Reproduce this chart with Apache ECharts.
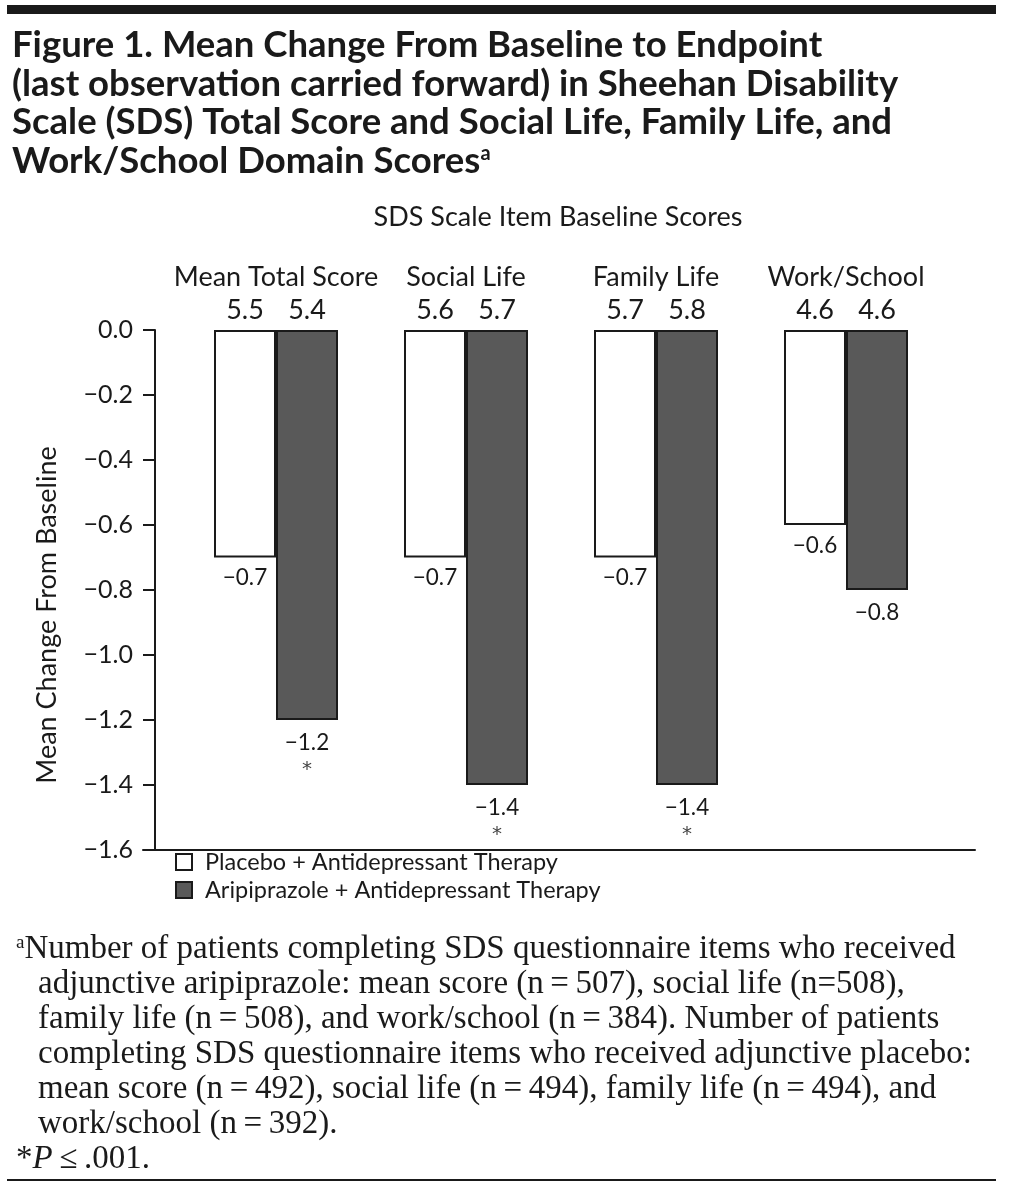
<!DOCTYPE html>
<html><head><meta charset="utf-8">
<script src="https://cdn.jsdelivr.net/npm/echarts@6/dist/echarts.min.js"></script>
<style>html,body{margin:0;padding:0;background:#fff}#c{width:1009px;height:1189px}</style>
</head><body><div id="c"></div>
<script>
// ---- data ----
const categories = ['Mean Total Score', 'Social Life', 'Family Life', 'Work/School'];
const seriesNames = ['Placebo + Antidepressant Therapy', 'Aripiprazole + Antidepressant Therapy'];
const placeboChange = [-0.7, -0.7, -0.7, -0.6];
const aripChange = [-1.2, -1.4, -1.4, -0.8];
const placeboBaseline = [5.5, 5.6, 5.7, 4.6];
const aripBaseline = [5.4, 5.7, 5.8, 4.6];
const aripSignificant = [true, true, true, false];
const yMin = -1.6, yMax = 0, yStep = 0.2;

const SANS = 'Lato, "Open Sans", sans-serif';
const SERIF = '"Liberation Serif", "DejaVu Serif", serif';
const fmtNum = v => (v < 0 ? '\u2212' : '') + Math.abs(v).toFixed(1);

const chart = echarts.init(document.getElementById('c'), null, {renderer: 'canvas'});
const titleText =
  'Figure 1. Mean Change From Baseline to Endpoint\n' +
  '(last observation carried forward) in Sheehan Disability\n' +
  'Scale (SDS) Total Score and Social Life, Family Life, and\n' +
  'Work/School Domain Scores{sup|a}';
const footText =
  '{sup|a}Number of patients completing SDS questionnaire items who received\n' +
  '{i| }adjunctive aripiprazole: mean score (n\u2009=\u2009507), social life (n=508),\n' +
  '{i| }family life (n\u2009=\u2009508), and work/school (n\u2009=\u2009384). Number of patients\n' +
  '{i| }completing SDS questionnaire items who received adjunctive placebo:\n' +
  '{i| }mean score (n\u2009=\u2009492), social life (n\u2009=\u2009494), family life (n\u2009=\u2009494), and\n' +
  '{i| }work/school (n\u2009=\u2009392).\n' +
  '*{it|P}\u2009\u2264\u2009.001.';

const option = {
  backgroundColor: '#fff',
  animation: false,
  title: [
    {
      text: titleText, left: 12, top: 26, padding: 0,
      textStyle: {
        fontFamily: SANS, fontWeight: 'bold', fontSize: 36.5, lineHeight: 38.5, color: '#1a1a1a',
        rich: {sup: {fontFamily: SANS, fontWeight: 'bold', fontSize: 20, color: '#1a1a1a', lineHeight: 38.5, padding: [0, 0, 15, 0]}}
      }
    },
    {
      text: 'SDS Scale Item Baseline Scores', left: 558, textAlign: 'center', top: 204, padding: 0,
      textStyle: {fontFamily: SANS, fontWeight: 'normal', fontSize: 27, color: '#1a1a1a'}
    },
    {
      text: footText, left: 16, top: 932, padding: 0,
      textStyle: {
        fontFamily: SERIF, fontWeight: 'normal', fontSize: 33, lineHeight: 35, color: '#1a1a1a',
        rich: {
          sup: {fontFamily: SERIF, fontSize: 19, color: '#1a1a1a', padding: [0, 0, 13, 0]},
          i: {fontFamily: SERIF, fontSize: 33, width: 22},
          it: {fontFamily: SERIF, fontSize: 33, fontStyle: 'italic', color: '#1a1a1a'}
        }
      }
    }
  ],
  graphic: [
    {type: 'rect', shape: {x: 7, y: 5, width: 989, height: 9}, style: {fill: '#1a1a1a'}},
    {type: 'rect', shape: {x: 7, y: 1179, width: 989, height: 2}, style: {fill: '#1a1a1a'}},
    {type: 'text', x: 47, y: 615, rotation: Math.PI / 2,
      style: {text: 'Mean Change From Baseline', font: '27px ' + SANS, fill: '#1a1a1a', align: 'center', verticalAlign: 'middle'}}
  ],
  legend: {
    orient: 'vertical', left: 175, top: 848, padding: 0, itemGap: 0,
    itemWidth: 16, itemHeight: 16, icon: 'rect',
    textStyle: {fontFamily: SANS, fontSize: 23.5, lineHeight: 28, color: '#1a1a1a', padding: [0, 0, 0, 8]},
    data: seriesNames
  },
  grid: [
    {left: 181, right: 68, top: 330, height: 520, containLabel: false},
    {left: 143, right: 34, top: 330, height: 520, containLabel: false}
  ],
  xAxis: [
    {
      type: 'category', gridIndex: 0, position: 'top', data: categories,
      axisLine: {show: false}, axisTick: {show: false}, splitLine: {show: false},
      axisLabel: {
        interval: 0, margin: 3, color: '#1a1a1a',
        formatter: (val, idx) => '{n|' + val + '}\n{b|' + placeboBaseline[idx].toFixed(1) + '}{b|' + aripBaseline[idx].toFixed(1) + '}',
        rich: {
          n: {fontFamily: SANS, fontSize: 27, lineHeight: 33, color: '#1a1a1a'},
          b: {fontFamily: SANS, fontSize: 27, lineHeight: 33, width: 62, align: 'center', color: '#1a1a1a'}
        }
      }
    },
    {
      type: 'value', gridIndex: 1, position: 'top', min: 0, max: 1,
      axisLine: {show: true, lineStyle: {color: '#1a1a1a', width: 2}},
      axisTick: {show: false}, axisLabel: {show: false}, splitLine: {show: false}
    }
  ],
  yAxis: [
    {
      type: 'value', gridIndex: 0, min: yMin, max: yMax, interval: yStep, offset: 26,
      axisLine: {show: true, lineStyle: {color: '#1a1a1a', width: 2}},
      axisTick: {show: true, length: 12, lineStyle: {color: '#1a1a1a', width: 2}},
      splitLine: {show: false},
      axisLabel: {margin: 22, fontFamily: SANS, fontSize: 25, color: '#1a1a1a', formatter: v => fmtNum(v)}
    },
    {type: 'value', gridIndex: 1, show: false, min: 0, max: 1}
  ],
  series: [
    {
      name: seriesNames[0], type: 'bar', xAxisIndex: 0, yAxisIndex: 0,
      data: placeboChange, barWidth: 62, barGap: '0%',
      itemStyle: {color: '#ffffff', borderColor: '#1a1a1a', borderWidth: 2},
      label: {
        show: true, position: 'bottom', distance: 9, fontFamily: SANS, fontSize: 22.5, color: '#1a1a1a',
        formatter: p => fmtNum(p.value)
      }
    },
    {
      name: seriesNames[1], type: 'bar', xAxisIndex: 0, yAxisIndex: 0,
      data: aripChange, barWidth: 62, barGap: '0%',
      itemStyle: {color: '#595959', borderColor: '#1a1a1a', borderWidth: 2},
      label: {
        show: true, position: 'bottom', distance: 9, color: '#1a1a1a',
        formatter: p => '{v|' + fmtNum(p.value) + '}' + (aripSignificant[p.dataIndex] ? '\n{s|*}' : ''),
        rich: {
          v: {fontFamily: SANS, fontSize: 22.5, lineHeight: 27, color: '#1a1a1a'},
          s: {fontFamily: '"DejaVu Sans", sans-serif', fontSize: 20, lineHeight: 27, color: '#444'}
        }
      }
    }
  ]
};
chart.setOption(option);
</script>
</body></html>
